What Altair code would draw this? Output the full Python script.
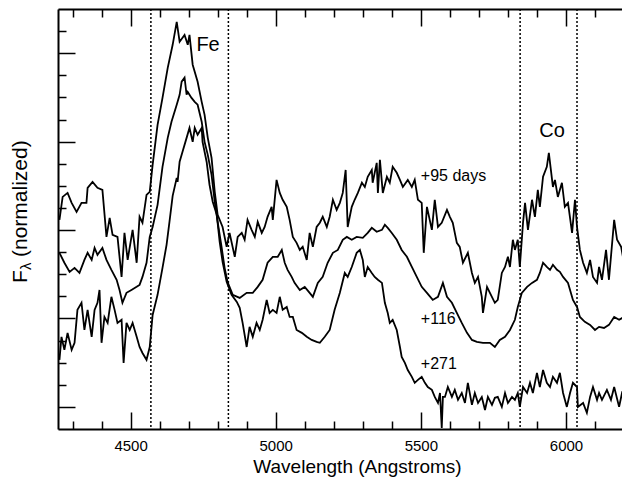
import altair as alt
import pandas as pd

# ---------------- data ----------------
wl_95 = [4255,4266,4283,4297,4314,4331,4348,4352,4369,4386,
         4403,4417,4428,4438,4455,4469,4479,4490,4507,4521,
         4531,4541,4555,4566,4576,4593,4610,4628,4645,4659,
         4669,4686,4697,4703,4714,4731,4745,4755,4766,4779,
         4790,4800,4817,4831,4841,4859,4869,4883,4893,4903,
         4917,4928,4938,4952,4962,4972,4986,4990,5003,5014,
         5024,5038,5048,5059,5072,5083,5093,5107,5117,5128,
         5141,5152,5162,5176,5186,5197,5210,5221,5231,5241,
         5248,5262,5272,5283,5297,5307,5317,5331,5334,5348,
         5352,5359,5369,5383,5393,5403,5417,5428,5438,5455,
         5469,5479,5490,5503,5510,5521,5538,5548,5559,5572,
         5590,5600,5610,5624,5634,5645,5662,5676,5686,5697,
         5710,5714,5728,5738,5755,5765,5779,5790,5800,5807,
         5817,5824,5834,5841,5852,5859,5869,5883,5893,5903,
         5910,5921,5934,5941,5955,5962,5972,5986,5996,6007,
         6021,6031,6038,6048,6059,6072,6083,6093,6107,6114,
         6124,6138,6148,6166,6176,6190,6200]
fx_95 = [8.46,9.50,9.68,9.23,8.82,9.23,9.23,9.91,10.18,9.91,
         9.82,7.69,8.55,7.78,7.69,5.88,7.87,6.65,8.01,6.52,
         8.60,8.33,9.59,9.73,10.95,12.76,13.98,15.34,16.38,17.42,
         16.52,16.83,16.38,16.83,15.48,14.71,13.80,13.21,12.17,11.27,
         9.73,8.69,8.14,7.24,7.87,6.79,7.69,7.87,7.56,8.46,
         8.01,7.69,8.37,7.87,8.14,8.60,9.05,8.46,10.27,9.68,
         9.37,9.05,8.46,7.69,7.42,7.10,7.24,6.65,7.87,7.24,
         8.14,8.33,8.60,8.14,8.60,9.37,8.91,9.23,9.68,10.72,
         8.14,9.05,9.37,9.68,10.14,9.95,10.41,10.72,10.14,11.04,
         9.68,11.18,9.68,10.41,10.14,10.86,10.59,10.27,9.95,10.27,
         9.95,10.27,9.37,9.23,6.97,9.05,8.01,9.37,8.14,8.33,
         8.91,8.60,8.33,7.42,7.24,6.52,6.97,6.06,5.61,5.88,
         4.98,4.25,5.43,5.16,4.71,4.84,6.06,6.33,6.79,6.33,
         7.56,7.10,7.56,6.33,8.33,9.23,8.01,9.37,8.60,9.82,
         9.05,10.41,10.86,11.49,9.95,10.27,9.50,10.14,9.05,9.23,
         7.87,9.37,8.14,7.10,6.52,6.06,6.65,5.88,5.61,6.33,
         5.75,7.10,5.75,8.46,7.56,7.24,6.52]

wl_116 = [4255,4272,4290,4307,4324,4341,4352,4366,4376,4386,
          4403,4417,4434,4452,4462,4472,4486,4503,4521,4531,
          4541,4555,4566,4576,4593,4610,4628,4641,4659,4669,
          4676,4686,4693,4697,4710,4721,4731,4745,4755,4766,
          4779,4790,4800,4814,4824,4834,4852,4876,4900,4921,
          4938,4955,4972,4990,5007,5021,5031,5041,5055,5065,
          5083,5100,5117,5128,5145,5162,5179,5197,5214,5231,
          5245,5262,5279,5300,5317,5331,5348,5366,5376,5386,
          5400,5417,5434,5452,5469,5486,5503,5521,5541,5559,
          5576,5590,5607,5624,5641,5659,5676,5693,5714,5738,
          5755,5772,5790,5807,5824,5834,5848,5866,5883,5900,
          5910,5921,5934,5945,5955,5969,5979,5990,6007,6024,
          6038,6048,6065,6083,6100,6114,6131,6148,6166,6183,
          6200,6210]
fx_116 = [6.97,6.52,6.11,6.29,6.06,6.65,6.97,6.65,7.19,6.88,
          7.19,6.65,6.20,5.75,5.29,4.71,5.16,5.29,5.43,5.52,
          5.88,6.52,7.69,8.14,9.14,10.86,12.17,12.90,13.67,14.12,
          14.71,14.89,14.12,14.25,13.98,13.80,13.67,12.90,11.99,11.40,
          10.50,9.28,8.37,7.19,6.29,5.66,5.07,4.93,5.16,5.16,
          5.43,5.75,6.52,6.79,6.79,7.10,6.52,6.20,5.88,5.61,
          5.29,5.43,5.16,4.98,5.61,5.88,6.52,6.97,7.10,7.56,
          7.69,7.56,7.69,7.65,7.87,8.10,7.92,8.01,8.24,8.10,
          7.87,7.56,7.10,6.79,6.33,5.88,5.43,5.16,4.84,4.98,
          5.61,4.98,4.71,4.25,3.80,3.35,3.03,2.94,2.90,2.90,
          2.71,3.03,3.17,3.48,3.94,4.52,5.16,5.43,5.61,5.75,
          6.06,6.52,6.33,6.20,6.43,6.20,6.11,5.88,5.61,4.84,
          4.52,4.07,3.85,3.71,3.48,3.62,3.57,3.71,4.07,3.94,
          4.07,4.03]

wl_271 = [4255,4262,4272,4283,4297,4307,4317,4331,4341,4352,
          4366,4376,4386,4393,4400,4410,4421,4434,4445,4455,
          4469,4476,4486,4497,4507,4521,4531,4541,4555,4566,
          4576,4593,4610,4624,4634,4645,4659,4662,4669,4679,
          4693,4703,4714,4721,4731,4745,4748,4762,4772,4783,
          4797,4807,4817,4831,4848,4866,4876,4886,4900,4910,
          4921,4934,4945,4955,4969,4979,4990,5003,5014,5024,
          5038,5048,5059,5072,5090,5107,5124,5141,5152,5169,
          5186,5203,5221,5238,5248,5262,5279,5290,5300,5307,
          5317,5331,5341,5352,5366,5376,5386,5393,5403,5417,
          5428,5434,5445,5455,5469,5479,5490,5503,5514,5524,
          5538,5548,5559,5566,5572,5576,5583,5593,5607,5617,
          5628,5641,5652,5662,5676,5686,5697,5710,5721,5731,
          5745,5755,5765,5779,5790,5800,5814,5824,5834,5841,
          5852,5866,5876,5886,5900,5910,5921,5934,5945,5955,
          5969,5979,5990,6003,6014,6024,6038,6041,6059,6072,
          6083,6093,6107,6114,6124,6141,6155,6166,6183,6193,
          6210]
fx_271 = [2.13,3.17,2.58,3.35,2.58,2.90,4.39,4.71,3.48,4.39,
          3.17,4.39,4.71,5.29,2.90,4.07,3.80,4.98,4.39,3.80,
          3.94,1.99,3.80,3.48,3.80,3.17,2.71,2.44,2.13,2.71,
          4.16,5.07,6.29,7.33,8.37,9.55,10.36,10.18,11.09,11.54,
          12.17,12.62,11.99,12.62,12.31,12.62,11.99,11.09,10.05,9.28,
          8.69,7.47,6.56,5.66,5.07,4.75,4.48,3.80,2.71,3.62,
          3.17,3.80,3.48,3.94,4.84,4.25,4.39,4.25,4.98,4.39,
          4.52,4.07,4.07,3.48,3.35,3.17,3.03,2.94,2.90,3.17,
          3.48,4.39,5.16,6.06,5.88,6.33,6.97,7.10,6.65,5.88,
          6.33,6.06,5.88,5.75,5.61,4.71,4.25,3.80,3.94,3.48,
          2.71,2.26,1.99,1.67,1.36,1.09,1.22,1.36,1.09,0.90,
          0.77,0.45,0.18,0.63,-0.95,0.45,0.45,0.90,0.45,0.77,
          0.32,0.63,0.18,1.09,0.09,0.63,0.18,0.45,-0.14,0.45,
          0.09,0.41,0.45,0.00,0.63,0.18,0.45,0.32,0.63,0.00,
          0.90,0.63,1.09,0.63,1.54,0.90,1.67,1.09,0.90,1.36,
          1.09,1.54,0.63,0.00,0.63,1.09,0.90,0.00,0.18,-0.27,
          0.45,0.90,0.32,0.63,0.32,0.77,0.32,0.90,0.00,0.63,
          0.32]

# vertical dotted marker lines (Angstrom)
marker_wl = [4570, 4837, 5842, 6038]

# element labels
elem_labels = ["Fe", "Co"]
elem_wl = [4767, 5952]
elem_fx = [16.38, 12.49]

# epoch labels
epoch_labels = ["+95 days", "+116", "+271"]
epoch_wl = [5500, 5500, 5500]
epoch_fx = [10.45, 3.98, 1.95]

# axis ticks
x_labels = [4500, 5000, 5500, 6000]
x_ticks = [4300, 4400, 4500, 4600, 4700, 4800, 4900, 5000, 5100, 5200,
           5300, 5400, 5500, 5600, 5700, 5800, 5900, 6000, 6100]
y_ticks = [0, 1, 2, 3, 4, 5, 6, 7, 8, 9, 10, 11, 12, 13, 14, 15, 16, 17]

# ---------------- chart ----------------
W, H = 564, 420
FONT = "Liberation Sans"

spec = pd.concat([
    pd.DataFrame({"wl": wl_95, "flux": fx_95, "epoch": "+95"}),
    pd.DataFrame({"wl": wl_116, "flux": fx_116, "epoch": "+116"}),
    pd.DataFrame({"wl": wl_271, "flux": fx_271, "epoch": "+271"}),
], ignore_index=True)

xs = alt.Scale(domain=[4250, 6193], nice=False, zero=False)
ys = alt.Scale(domain=[-1, 18], nice=False, zero=False)

x_tick_size = {"condition": {"test": "datum.value % 500 === 0", "value": 17}, "value": 8}
y_tick_size = {"condition": {"test": "datum.value % 4 === 0", "value": 17}, "value": 8}

lines = alt.Chart(spec).mark_line(color="black", strokeWidth=1.8, clip=True).encode(
    x=alt.X("wl:Q", scale=xs, axis=alt.Axis(
        orient="bottom", values=x_labels, ticks=False, domain=True,
        domainColor="black", domainWidth=2, labelFontSize=15, labelPadding=9,
        labelColor="black", labelFont=FONT, format="d", grid=False,
        title="Wavelength (Angstroms)", titleFontSize=19, titleFont=FONT,
        titleFontWeight="normal", titleColor="black",
        titleX=299, titleY=43, titleBaseline="alphabetic")),
    y=alt.Y("flux:Q", scale=ys, axis=alt.Axis(
        orient="left", ticks=False, labels=False, domain=True,
        domainColor="black", domainWidth=2, title=None, grid=False)),
    detail="epoch:N",
)

rules = alt.Chart(pd.DataFrame({"wl": marker_wl})).mark_rule(
    color="black", strokeDash=[2, 2], strokeWidth=1.5
).encode(x=alt.X("wl:Q", scale=xs, axis=None))

elem_df = pd.DataFrame({"label": elem_labels, "wl": elem_wl, "flux": elem_fx})
epoch_df = pd.DataFrame({"label": epoch_labels, "wl": epoch_wl, "flux": epoch_fx})

elem_text = alt.Chart(elem_df).mark_text(
    fontSize=20, align="center", baseline="middle", color="black", font=FONT
).encode(
    x=alt.X("wl:Q", scale=xs, axis=alt.Axis(
        orient="top", offset=-H, values=x_ticks, tickSize=x_tick_size,
        tickWidth=1.5, tickColor="black", labels=False, domain=False,
        title=None, grid=False)),
    y=alt.Y("flux:Q", scale=ys, axis=alt.Axis(
        orient="right", offset=-W, values=y_ticks, tickSize=y_tick_size,
        tickWidth=1.5, tickColor="black", labels=False, domain=False,
        title=None, grid=False)),
    text="label:N",
)

epoch_text = alt.Chart(epoch_df).mark_text(
    fontSize=16, align="left", baseline="middle", color="black", font=FONT
).encode(
    x=alt.X("wl:Q", scale=xs, axis=alt.Axis(
        orient="bottom", offset=-H, values=x_ticks, tickSize=x_tick_size,
        tickWidth=1.5, tickColor="black", labels=False, domain=True,
        domainColor="black", domainWidth=2, title=None, grid=False)),
    y=alt.Y("flux:Q", scale=ys, axis=None),
    text="label:N",
)

one = pd.DataFrame({"k": [0]})
yt_F = alt.Chart(one).mark_text(
    text="F", angle=270, align="left", baseline="alphabetic",
    fontSize=21, color="black", font=FONT
).encode(x=alt.value(-31), y=alt.value(274))
yt_lam = alt.Chart(one).mark_text(
    text="\u03bb", angle=270, align="left", baseline="alphabetic",
    fontSize=15, color="black", font=FONT
).encode(x=alt.value(-27), y=alt.value(261))
yt_rest = alt.Chart(one).mark_text(
    text="(normalized)", angle=270, align="left", baseline="alphabetic",
    fontSize=21, color="black", font=FONT
).encode(x=alt.value(-31), y=alt.value(248))

chart = alt.layer(
    rules, lines, elem_text, epoch_text, yt_F, yt_lam, yt_rest
).resolve_axis(x="independent", y="independent").properties(
    width=W, height=H,
    autosize=alt.AutoSizeParams(type="none"),
    padding={"left": 50, "top": 1, "right": 0, "bottom": 48},
).configure_view(stroke=None).configure(font=FONT, background="white")

chart.save("out.html", embed_options={"renderer": "svg", "actions": False})
